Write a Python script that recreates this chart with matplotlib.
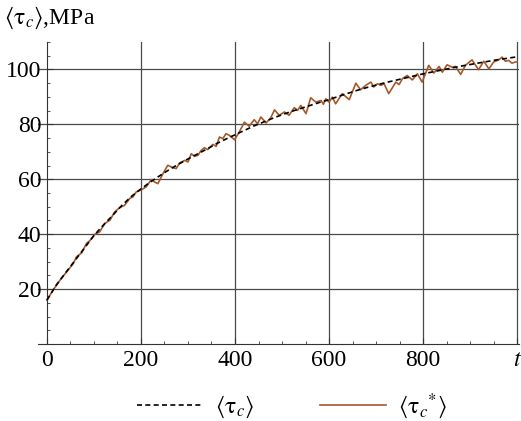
import matplotlib
matplotlib.use("Agg")
import matplotlib.pyplot as plt
from matplotlib.ticker import MultipleLocator

plt.rcParams['font.family'] = 'serif'
plt.rcParams['font.serif'] = ['Liberation Serif', 'DejaVu Serif']
plt.rcParams['mathtext.fontset'] = 'stix'

# smooth mean curve <tau_c>
t_mean = [0, 20, 40, 60, 80, 100, 120, 140, 160, 180, 200, 220, 240, 260, 280,
          300, 320, 340, 360, 380, 400, 420, 440, 460, 480, 500, 520, 540, 560,
          580, 600, 620, 640, 660, 680, 700, 720, 740, 760, 780, 800, 820, 840,
          860, 880, 900, 920, 940, 960, 980, 1000]
tau_mean = [16.0, 21.5, 26.0, 30.5, 35.0, 39.5, 43.3, 46.9, 50.6, 53.8, 56.5,
            59.0, 61.3, 63.5, 65.5, 67.4, 69.2, 71.0, 72.9, 74.6, 76.2, 77.8,
            79.4, 80.8, 82.2, 83.5, 84.7, 85.8, 86.9, 88.0, 89.0, 90.2, 91.3,
            92.4, 93.4, 94.3, 95.2, 96.0, 96.8, 97.6, 98.4, 99.1, 99.8, 100.5,
            101.2, 101.8, 102.4, 103.0, 103.6, 104.1, 104.6]

# noisy curve <tau_c*>
t_star = [0, 13, 28, 42, 56, 63, 74, 84, 91, 102, 112, 123, 134, 144, 155, 165,
          176, 183, 190, 201, 211, 222, 229, 236, 247, 257, 268, 275, 282, 293,
          300, 307, 314, 321, 328, 335, 342, 346, 353, 360, 367, 374, 381, 388,
          399, 409, 420, 430, 441, 448, 455, 466, 476, 484, 494, 505, 515, 526,
          533, 540, 551, 561, 572, 583, 588, 593, 600, 607, 614, 628, 643, 657,
          667, 678, 689, 695, 703, 710, 717, 727, 742, 749, 756, 766, 777, 788,
          798, 812, 823, 834, 841, 851, 862, 869, 880, 890, 904, 918, 929, 940,
          950, 961, 968, 975, 982, 989, 996, 1000]
tau_star = [16.0, 19.6, 23.3, 26.3, 29.3, 31.8, 33.2, 36.6, 37.6, 40.0, 40.8,
            43.9, 45.1, 48.1, 49.7, 50.5, 53.0, 53.6, 55.4, 56.2, 57.2, 59.9,
            59.0, 58.4, 62.1, 65.1, 64.2, 63.9, 65.9, 66.9, 66.3, 69.3, 68.4,
            68.7, 70.5, 71.5, 70.8, 71.5, 72.7, 72.0, 75.4, 74.8, 76.6, 76.0,
            74.4, 77.2, 80.8, 79.3, 81.7, 80.2, 82.7, 80.5, 82.4, 85.3, 83.3,
            84.5, 83.3, 86.1, 85.1, 86.9, 83.9, 89.7, 88.1, 88.7, 87.3, 89.3,
            88.1, 89.9, 87.5, 91.2, 89.0, 95.0, 92.6, 94.2, 95.4, 93.6, 94.8,
            94.2, 94.8, 91.2, 95.4, 94.5, 96.6, 97.8, 96.2, 98.4, 95.4, 101.5,
            98.7, 101.1, 99.0, 101.7, 100.8, 101.1, 98.2, 101.5, 103.5, 99.9,
            103.0, 100.2, 102.7, 103.5, 104.5, 103.0, 103.3, 102.3, 102.7, 102.8]

xticks = [0, 200, 400, 600, 800, 1000]
xlabels = ['0', '200', '400', '600', '800', '$t$']
yticks = [20, 40, 60, 80, 100]

fig = plt.figure(figsize=(5.21, 4.21), dpi=100)
ax = fig.add_axes([38 / 521, 77 / 421, 481 / 521, 302 / 421])

ax.plot(t_star, tau_star, color='#a5582a', lw=1.2, label=r'$\langle\mathrm{\tau}_c{}^{*}\rangle$', zorder=3)
ax.plot(t_mean, tau_mean, color='black', lw=1.2, ls=(0, (3, 2)),
        label=r'$\langle\mathrm{\tau}_c\rangle$', zorder=4)

ax.set_xlim(-19, 1004)
ax.set_ylim(0, 110)

# grid lines (Mathematica style)
for x in [200, 400, 600, 800, 1000]:
    ax.axvline(x, color='#4a4a4a', lw=0.9, zorder=1)
for y in yticks:
    ax.axhline(y, color='#4a4a4a', lw=0.9, zorder=1)

ax.spines['top'].set_visible(False)
ax.spines['right'].set_visible(False)
ax.spines['left'].set_position(('data', 0))
ax.spines['left'].set_color('#333333')
ax.spines['bottom'].set_color('#333333')

ax.set_xticks(xticks)
ax.set_xticklabels(xlabels)
ax.set_yticks(yticks)
ax.xaxis.set_minor_locator(MultipleLocator(50))
ax.yaxis.set_minor_locator(MultipleLocator(5))
ax.tick_params(which='both', direction='in', labelsize=17, color='#333333')
ax.tick_params(which='major', length=4, pad=4)
ax.tick_params(which='minor', length=2.5)

fig.text(0.008, 0.958, r'$\langle\mathrm{\tau}_c\rangle$,MPa', fontsize=17, va='center', ha='left')

handles, labels = ax.get_legend_handles_labels()
fig.legend(handles[::-1], labels[::-1], loc='center', bbox_to_anchor=(0.56, 0.035),
           ncol=2, frameon=False, fontsize=17, handlelength=2.8, columnspacing=2.8,
           handletextpad=0.5)

fig.savefig('out.png', dpi=100)
